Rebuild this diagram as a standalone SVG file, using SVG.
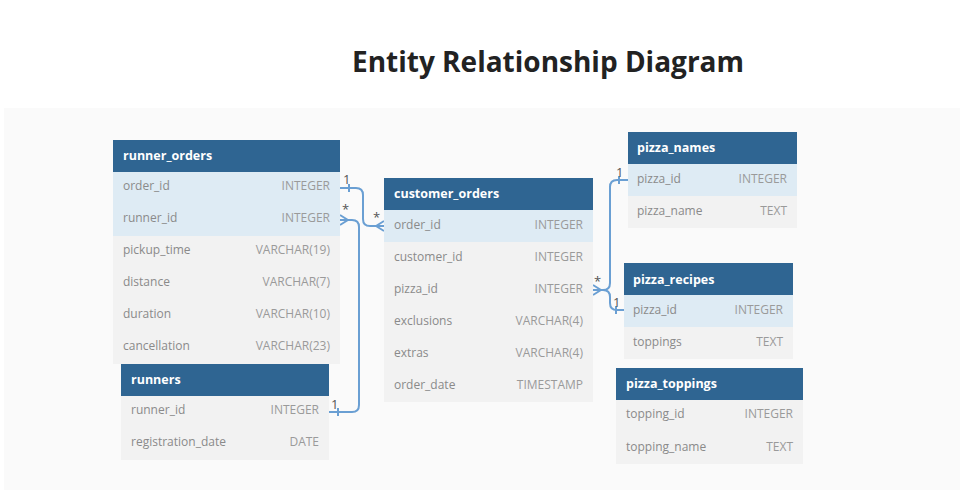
<svg xmlns="http://www.w3.org/2000/svg" width="960" height="490" viewBox="0 0 960 490">
  <style>
    .title { font-family: "Open Sans", "Liberation Sans", sans-serif; font-weight: 700; font-size: 28px; fill: #222; }
    .hdr { fill: #2f6592; }
    .hdr-t { font-family: "Open Sans", "Liberation Sans", sans-serif; font-weight: 700; font-size: 12.5px; fill: #fff; }
    .key { fill: #deebf4; }
    .row { fill: #f2f2f2; }
    .fld { font-family: "Open Sans", "Liberation Sans", sans-serif; font-size: 12px; fill: #8a8a8a; }
    .typ { font-family: "Open Sans", "Liberation Sans", sans-serif; font-size: 12px; fill: #9a9a9a; text-anchor: end; }
    .link { fill: none; stroke: #6a9fd3; stroke-width: 2; }
    .card { font-family: "Open Sans", "Liberation Sans", sans-serif; font-size: 13px; fill: #555; }
  </style>

  <rect width="960" height="490" fill="#ffffff"/>
  <text class="title" x="548" y="72" text-anchor="middle">Entity Relationship Diagram</text>
  <rect x="4" y="108" width="956" height="382" fill="#fafafa"/>

  <!-- connectors -->
  <g id="connectors">
    <!-- runner_orders.order_id 1 — * customer_orders.order_id -->
    <path class="link" d="M340,188 H356 Q363,188 363,195 V219 Q363,226 370,226 H384"/>
    <path class="link" d="M349,184 V192"/>
    <path class="link" d="M376,226 L384,221 M376,226 L384,231"/>
    <text class="card" x="343" y="184">1</text>
    <text class="card" x="373" y="222">*</text>

    <!-- runner_orders.runner_id * — 1 runners.runner_id -->
    <path class="link" d="M340,220 H352 Q359,220 359,227 V405 Q359,412 352,412 H329"/>
    <path class="link" d="M348,220 L340,215 M348,220 L340,225"/>
    <path class="link" d="M338,408 V416"/>
    <text class="card" x="342" y="214">*</text>
    <text class="card" x="331" y="409">1</text>

    <!-- customer_orders.pizza_id * — 1 pizza_names.pizza_id -->
    <path class="link" d="M593,290 H603 Q610,290 610,283 V187 Q610,180 617,180 H628"/>
    <path class="link" d="M601,290 L593,285 M601,290 L593,295"/>
    <path class="link" d="M619,176 V184"/>
    <text class="card" x="594" y="286">*</text>
    <text class="card" x="616" y="177">1</text>

    <!-- customer_orders.pizza_id * — 1 pizza_recipes.pizza_id -->
    <path class="link" d="M603,290 Q610,290 610,297 V303 Q610,310 617,310 H624"/>
    <path class="link" d="M616,306 V314"/>
    <text class="card" x="613" y="307">1</text>
  </g>

  <!-- runner_orders -->
  <g id="runner_orders">
    <rect class="hdr" x="113" y="140" width="227" height="32"/>
    <text class="hdr-t" x="123" y="160">runner_orders</text>
    <rect class="key" x="113" y="172" width="227" height="32"/>
    <rect class="key" x="113" y="204" width="227" height="32"/>
    <rect class="row" x="113" y="236" width="227" height="128"/>
    <text class="fld" x="123" y="190">order_id</text><text class="typ" x="330" y="190">INTEGER</text>
    <text class="fld" x="123" y="222">runner_id</text><text class="typ" x="330" y="222">INTEGER</text>
    <text class="fld" x="123" y="254">pickup_time</text><text class="typ" x="330" y="254">VARCHAR(19)</text>
    <text class="fld" x="123" y="286">distance</text><text class="typ" x="330" y="286">VARCHAR(7)</text>
    <text class="fld" x="123" y="318">duration</text><text class="typ" x="330" y="318">VARCHAR(10)</text>
    <text class="fld" x="123" y="350">cancellation</text><text class="typ" x="330" y="350">VARCHAR(23)</text>
  </g>

  <!-- runners -->
  <g id="runners">
    <rect class="hdr" x="121" y="364" width="208" height="32"/>
    <text class="hdr-t" x="131" y="384">runners</text>
    <rect class="row" x="121" y="396" width="208" height="64"/>
    <text class="fld" x="131" y="414">runner_id</text><text class="typ" x="319" y="414">INTEGER</text>
    <text class="fld" x="131" y="446">registration_date</text><text class="typ" x="319" y="446">DATE</text>
  </g>

  <!-- customer_orders -->
  <g id="customer_orders">
    <rect class="hdr" x="384" y="178" width="209" height="32"/>
    <text class="hdr-t" x="394" y="198">customer_orders</text>
    <rect class="key" x="384" y="210" width="209" height="32"/>
    <rect class="row" x="384" y="242" width="209" height="160"/>
    <text class="fld" x="394" y="229">order_id</text><text class="typ" x="583" y="229">INTEGER</text>
    <text class="fld" x="394" y="261">customer_id</text><text class="typ" x="583" y="261">INTEGER</text>
    <text class="fld" x="394" y="293">pizza_id</text><text class="typ" x="583" y="293">INTEGER</text>
    <text class="fld" x="394" y="325">exclusions</text><text class="typ" x="583" y="325">VARCHAR(4)</text>
    <text class="fld" x="394" y="357">extras</text><text class="typ" x="583" y="357">VARCHAR(4)</text>
    <text class="fld" x="394" y="389">order_date</text><text class="typ" x="583" y="389">TIMESTAMP</text>
  </g>

  <!-- pizza_names -->
  <g id="pizza_names">
    <rect class="hdr" x="628" y="132" width="169" height="32"/>
    <text class="hdr-t" x="637" y="152">pizza_names</text>
    <rect class="key" x="628" y="164" width="169" height="32"/>
    <rect class="row" x="628" y="196" width="169" height="32"/>
    <text class="fld" x="637" y="183">pizza_id</text><text class="typ" x="787" y="183">INTEGER</text>
    <text class="fld" x="637" y="215">pizza_name</text><text class="typ" x="787" y="215">TEXT</text>
  </g>

  <!-- pizza_recipes -->
  <g id="pizza_recipes">
    <rect class="hdr" x="624" y="263" width="169" height="32"/>
    <text class="hdr-t" x="633" y="284">pizza_recipes</text>
    <rect class="key" x="624" y="295" width="169" height="32"/>
    <rect class="row" x="624" y="327" width="169" height="32"/>
    <text class="fld" x="633" y="314">pizza_id</text><text class="typ" x="783" y="314">INTEGER</text>
    <text class="fld" x="633" y="346">toppings</text><text class="typ" x="783" y="346">TEXT</text>
  </g>

  <!-- pizza_toppings -->
  <g id="pizza_toppings">
    <rect class="hdr" x="616" y="368" width="187" height="32"/>
    <text class="hdr-t" x="626" y="388">pizza_toppings</text>
    <rect class="row" x="616" y="400" width="187" height="64"/>
    <text class="fld" x="626" y="418">topping_id</text><text class="typ" x="793" y="418">INTEGER</text>
    <text class="fld" x="626" y="451">topping_name</text><text class="typ" x="793" y="451">TEXT</text>
  </g>
</svg>
